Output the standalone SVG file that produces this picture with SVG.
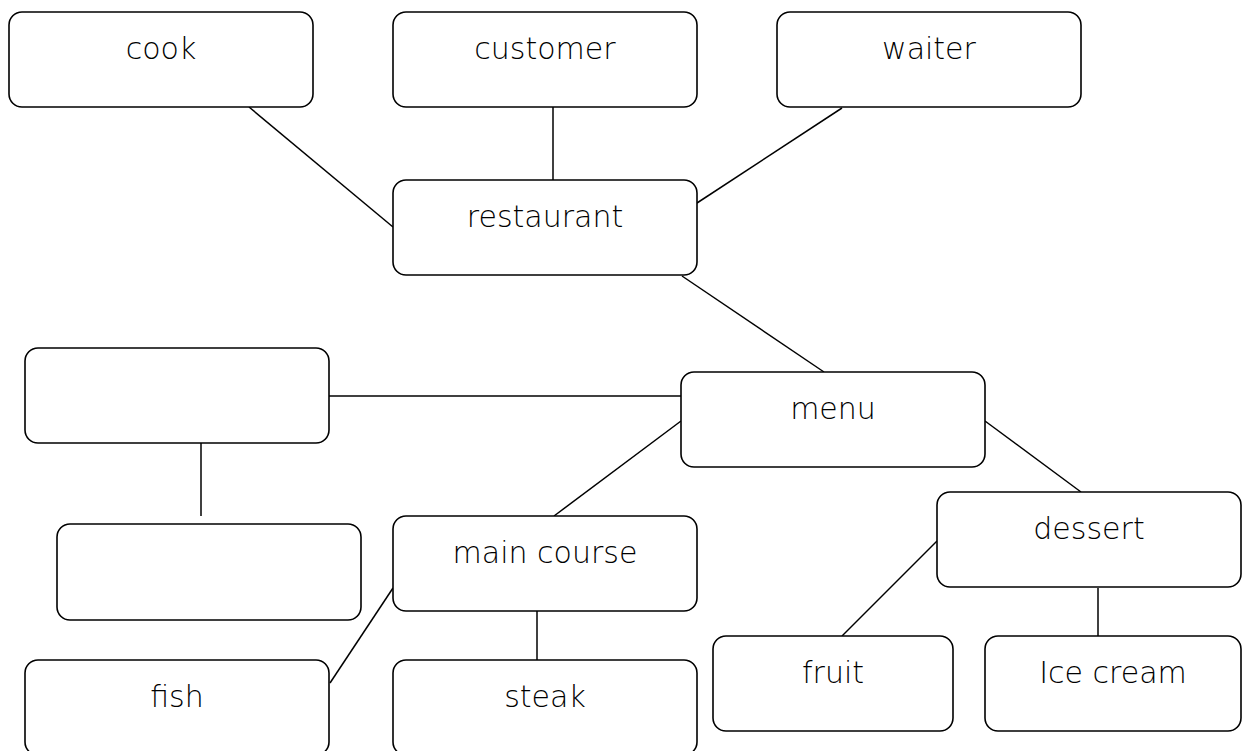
<svg xmlns="http://www.w3.org/2000/svg" width="1248" height="751" viewBox="0 0 1248 751">
  <style>
    .box { fill: #ffffff; stroke: #000000; stroke-width: 1.6; }
    .lbl { font-family: "DejaVu Sans", "Liberation Sans", sans-serif; font-size: 30px; font-weight: 200; fill: #000000; text-anchor: middle; }
    .conn line { stroke: #000000; stroke-width: 1.5; }
  </style>
  <rect width="1248" height="751" fill="#ffffff"/>
  <g id="connectors" class="conn">
    <line x1="249" y1="107" x2="393" y2="227"/>
    <line x1="553" y1="107" x2="553" y2="180"/>
    <line x1="842" y1="108" x2="697" y2="203"/>
    <line x1="682" y1="276" x2="824" y2="372"/>
    <line x1="329" y1="396" x2="681" y2="396"/>
    <line x1="201" y1="443" x2="201" y2="516"/>
    <line x1="681" y1="421" x2="554" y2="516"/>
    <line x1="985" y1="421" x2="1081" y2="492"/>
    <line x1="393" y1="588" x2="330" y2="683"/>
    <line x1="537" y1="611" x2="537" y2="660"/>
    <line x1="937" y1="541" x2="842" y2="636"/>
    <line x1="1098" y1="588" x2="1098" y2="636"/>
  </g>
  <g id="cook"><rect class="box" x="9" y="12" width="304" height="95" rx="13"/><text class="lbl" x="161" y="59">cook</text></g>
  <g id="customer"><rect class="box" x="393" y="12" width="304" height="95" rx="13"/><text class="lbl" x="545" y="59">customer</text></g>
  <g id="waiter"><rect class="box" x="777" y="12" width="304" height="95" rx="13"/><text class="lbl" x="929" y="59">waiter</text></g>
  <g id="restaurant"><rect class="box" x="393" y="180" width="304" height="95" rx="13"/><text class="lbl" x="545" y="227">restaurant</text></g>
  <g id="blank1"><rect class="box" x="25" y="348" width="304" height="95" rx="13"/></g>
  <g id="menu"><rect class="box" x="681" y="372" width="304" height="95" rx="13"/><text class="lbl" x="833" y="419">menu</text></g>
  <g id="blank2"><rect class="box" x="57" y="524" width="304" height="96" rx="13"/></g>
  <g id="main-course"><rect class="box" x="393" y="516" width="304" height="95" rx="13"/><text class="lbl" x="545" y="563">main course</text></g>
  <g id="dessert"><rect class="box" x="937" y="492" width="304" height="95" rx="13"/><text class="lbl" x="1089" y="539">dessert</text></g>
  <g id="fish"><rect class="box" x="25" y="660" width="304" height="95" rx="13"/><text class="lbl" x="177" y="707">fish</text></g>
  <g id="steak"><rect class="box" x="393" y="660" width="304" height="95" rx="13"/><text class="lbl" x="545" y="707">steak</text></g>
  <g id="fruit"><rect class="box" x="713" y="636" width="240" height="95" rx="13"/><text class="lbl" x="833" y="683">fruit</text></g>
  <g id="ice-cream"><rect class="box" x="985" y="636" width="256" height="95" rx="13"/><text class="lbl" x="1113" y="683">Ice cream</text></g>
</svg>
